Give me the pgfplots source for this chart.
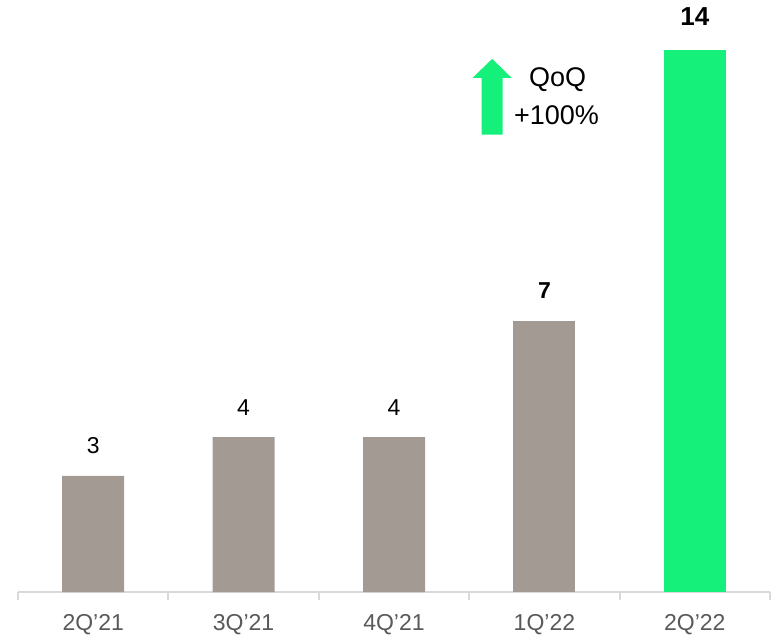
\documentclass[border=0pt]{standalone}
\usepackage{fontspec}
\setmainfont{Liberation Sans}
\usepackage{pgfplots}
\pgfplotsset{compat=1.18}
\definecolor{barGray}{HTML}{A39A94}
\definecolor{barGreen}{HTML}{14F07A}
\definecolor{axGray}{HTML}{D9D9D9}
\definecolor{lblGray}{HTML}{595959}
\begin{document}
\begin{tikzpicture}
\path[use as bounding box] (-9pt,-23pt) rectangle (380pt,296pt);
\begin{axis}[
 at={(0,0)}, anchor=south west,
 scale only axis, width=376pt, height=296pt,
 xmin=-0.5, xmax=4.5, ymin=0, ymax=15.29,
 axis x line*=bottom, axis y line=none,
 axis line style={axGray, line width=1pt, -},
 xtick={0,1,2,3,4}, xticklabels={2Q'21,3Q'21,4Q'21,1Q'22,2Q'22},
 major tick length=0pt,
 minor xtick={-0.5,0.5,1.5,2.5,3.5,4.5},
 minor tick length=4pt, tick align=outside,
 minor tick style={axGray, line width=1pt},
 xticklabel style={font=\fontsize{11.5}{13}\selectfont, text=lblGray, anchor=center, yshift=-16.5pt},
 /pgf/number format/assume math mode=true,
 ybar, bar width=31pt, clip=false,
]
\addplot[fill=barGray, draw=none, bar shift=0pt, nodes near coords,
  every node near coord/.style={anchor=center, yshift=15pt, font=\fontsize{11.5}{13}\selectfont, text=black}]
  coordinates {(0,3) (1,4) (2,4)};
\addplot[fill=barGray, draw=none, bar shift=0pt, nodes near coords,
  every node near coord/.style={anchor=center, yshift=15pt, font=\fontsize{11.5}{13}\selectfont\bfseries, text=black}]
  coordinates {(3,7)};
\addplot[fill=barGreen, draw=none, bar shift=0pt, nodes near coords,
  every node near coord/.style={anchor=center, yshift=16.5pt, font=\fontsize{13}{15}\selectfont\bfseries, text=black}]
  coordinates {(4,14)};
\fill[barGreen] (axis cs:2.583,11.81) -- (axis cs:2.723,11.81) -- (axis cs:2.723,13.28) -- (axis cs:2.782,13.28) -- (axis cs:2.653,13.77) -- (axis cs:2.523,13.28) -- (axis cs:2.583,13.28) -- cycle;
\node[font=\fontsize{13.5}{15}\selectfont] at (axis cs:3.088,13.24) {QoQ};
\node[font=\fontsize{13.5}{15}\selectfont] at (axis cs:3.081,12.32) {+100\%};
\end{axis}
\end{tikzpicture}
\end{document}
